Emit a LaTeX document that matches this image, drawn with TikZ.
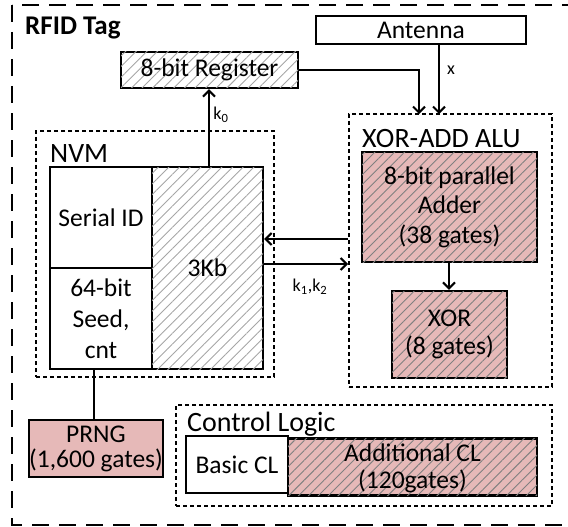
\documentclass[tikz,border=0pt]{standalone}
\usepackage{fontspec}
\setmainfont{Carlito}
\usetikzlibrary{arrows.meta,patterns.meta}
\definecolor{pinkfill}{RGB}{230,185,184}
\newcommand{\boxfont}{\fontsize{25.5}{30}\selectfont}
\newcommand{\titlefont}{\fontsize{28}{32}\selectfont}
\newcommand{\labelfont}{\fontsize{18}{20}\selectfont}

\begin{document}
\begin{tikzpicture}[x=1pt,y=-1pt,
  box/.style={draw,line width=2.4pt,inner sep=0pt,align=center,font=\boxfont},
  grayhatch/.style={postaction={pattern={Lines[angle=45,distance=7.5pt,line width=0.9pt]},pattern color=black!35}},
  pinkhatch/.style={fill=pinkfill,postaction={pattern={Lines[angle=45,distance=7pt,line width=0.9pt]},pattern color=black!50}},
  group/.style={draw,line width=2pt,dash pattern=on 4pt off 3pt,inner sep=0pt},
  title/.style={anchor=base west,inner sep=0pt,font=\titlefont},
  arr/.style={line width=2pt,-{Straight Barb[length=6pt,width=12pt]}},
  lbl/.style={inner sep=0pt,font=\labelfont}]
  \useasboundingbox (0,0) rectangle (568,527);
  % outer tag boundary
  \draw[line width=2.4pt,dash pattern=on 17pt off 10pt] (12,5) rectangle (572,525);
  \node[anchor=base west,inner sep=0pt,font=\fontsize{27}{30}\selectfont\bfseries] (tag) at (25,35) {RFID Tag};

  \node[box,grayhatch,minimum width=177pt,minimum height=36pt] (reg) at (209.5,70) {8-bit Register};
  \node[box,minimum width=210pt,minimum height=28pt] (ant) at (421,30) {Antenna};

  % NVM
  \node[group,minimum width=238pt,minimum height=246pt] (nvm) at (155,254) {};
  \node[title] (nvmtitle) at (50,162) {NVM};
  \node[box,minimum width=102pt,minimum height=101pt] (serial) at (101,217.5) {Serial ID};
  \node[box,minimum width=102pt,minimum height=101pt,font=\fontsize{25.5}{31}\selectfont] (seed) at (101,318.5) {64-bit\\Seed,\\cnt};
  \node[box,grayhatch,minimum width=111pt,minimum height=202pt] (kb) at (207.5,268) {3Kb};

  % ALU
  \node[group,minimum width=203pt,minimum height=273pt] (alu) at (450.5,250.5) {};
  \node[title] (alutitle) at (362,147) {XOR-ADD ALU};
  \node[box,pinkhatch,minimum width=175pt,minimum height=110pt,font=\fontsize{25.5}{29.5}\selectfont] (adder) at (449.5,207) {8-bit parallel\\Adder\\(38 gates)};
  \node[box,pinkhatch,minimum width=115pt,minimum height=87pt,font=\fontsize{25.5}{28}\selectfont] (xorb) at (449.5,334.5) {XOR\\(8 gates)};

  % control logic
  \node[group,minimum width=376pt,minimum height=101pt] (ctrl) at (364,455.5) {};
  \node[title] (ctrltitle) at (187,431) {Control Logic};
  \node[box,minimum width=102pt,minimum height=57pt] (basic) at (237,464.5) {Basic CL};
  \node[box,pinkhatch,minimum width=249pt,minimum height=57pt,font=\fontsize{25.5}{27}\selectfont] (addcl) at (412.5,467) {};
  \node[inner sep=0pt,align=center,font=\fontsize{25.5}{27}\selectfont] (addcltext) at (412.5,468) {Additional CL\\(120gates)};

  \node[box,fill=pinkfill,minimum width=134pt,minimum height=57pt,font=\fontsize{25.5}{25}\selectfont] (prng) at (96,448.5) {PRNG\\(1,600 gates)};

  % connections
  \coordinate (alua) at (419,114);
  \coordinate (alub) at (439,114);
  \draw[arr] (reg.east) -| (alua);
  \draw[arr] (ant.south -| alub) -- (alub);
  \node[lbl] (xlbl) at (451,70) {x};
  \draw[arr] (kb.north -| 209,0) -- (reg.south -| 209,0);
  \node[lbl] (klbl) at (221,115) {k\textsubscript{0}};
  \draw[arr] (alu.west |- 0,239) -- (kb.east |- 0,239);
  \draw[arr] (kb.east |- 0,264) -- (alu.west |- 0,264);
  \node[lbl] (kklbl) at (310,287) {k\textsubscript{1},k\textsubscript{2}};
  \draw[arr] (adder.south -| 449,0) -- (xorb.north -| 449,0);
  \draw[line width=2pt] (seed.south -| 94,0) -- (prng.north -| 94,0);
\end{tikzpicture}
\end{document}
